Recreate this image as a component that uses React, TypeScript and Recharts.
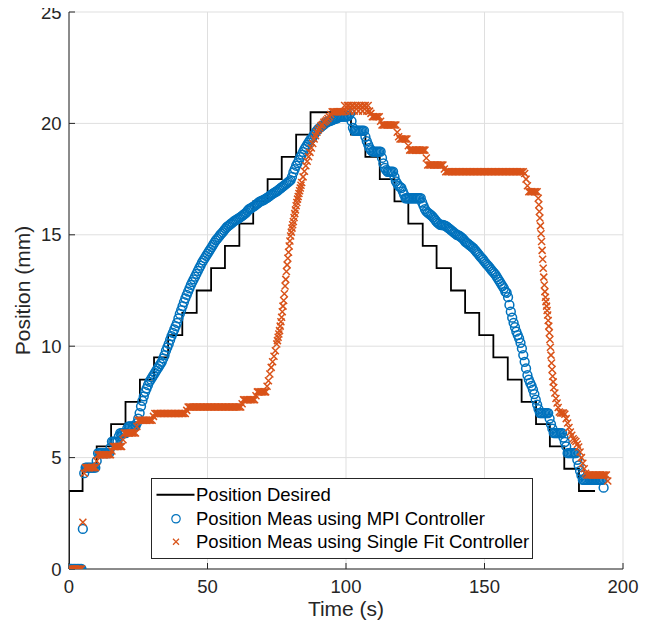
import React from 'react';
import { ComposedChart, Line, Scatter, XAxis, YAxis, CartesianGrid } from 'recharts';

const xTicks = [0, 50, 100, 150, 200];
const yTicks = [0, 5, 10, 15, 20, 25];

const seriesNames = [
  'Position Desired',
  'Position Meas using MPI Controller',
  'Position Meas using Single Fit Controller',
];

const desiredTime = [0, 0, 4.9, 10.0, 15.2, 20.4, 25.6, 30.7, 35.8, 40.9, 46.1, 51.3, 56.3, 61.5, 66.5, 71.7, 76.8, 82.0, 87.2,
  101.8, 107.0, 112.2, 117.5, 122.5, 127.7, 132.7, 137.9, 143.0, 148.1, 153.2, 158.4, 163.4, 168.6, 173.6, 178.8, 184.1, 189.9];
const desiredPos = [0, 3.5, 4.5, 5.5, 6.5, 7.5, 8.5, 9.5, 10.5, 11.5, 12.5, 13.5, 14.5, 15.5, 16.5, 17.5, 18.5, 19.5, 20.5,
  19.5, 18.5, 17.5, 16.5, 15.5, 14.5, 13.5, 12.5, 11.5, 10.5, 9.5, 8.5, 7.5, 6.5, 5.5, 4.5, 3.5, 3.5];

const mpiSamples: [number, number][] = [
  [0, 0], [0.5, 0], [1, 0], [1.5, 0], [2, 0], [2.5, 0], [3, 0], [3.5, 0], [4, 0], [4.5, 0],
  [5, 1.8], [5.5, 4.3],
  [6, 4.55], [6.5, 4.55], [7, 4.55], [7.5, 4.55], [8, 4.55], [8.5, 4.55], [9, 4.55], [9.5, 4.55],
  [10, 4.85],
  [10.5, 5.2], [11, 5.2], [11.5, 5.2], [12, 5.2], [12.5, 5.2], [13, 5.2], [13.5, 5.2], [14, 5.2], [14.5, 5.2],
  [15, 5.45],
  [15.5, 5.72], [16, 5.72], [16.5, 5.72], [17, 5.72], [17.5, 5.72],
  [18, 5.95],
  [18.5, 6.1], [19, 6.1], [19.5, 6.1], [20, 6.1], [20.5, 6.1],
  [21, 6.3], [21.5, 6.4], [22, 6.4], [22.5, 6.4], [23, 6.4], [23.5, 6.4], [24, 6.4],
  [24.5, 6.55],
  [25, 6.75], [25.5, 7.0], [26, 7.3], [26.5, 7.55], [27, 7.75], [27.5, 7.95], [28, 8.1], [28.5, 8.25], [29, 8.4], [29.5, 8.5],
  [30, 8.6], [30.5, 8.7], [31, 8.8], [31.5, 8.9], [32, 9.0], [32.5, 9.1], [33, 9.2], [33.5, 9.3], [34, 9.45], [34.5, 9.6],
  [35, 9.8], [35.5, 9.95], [36, 10.1], [36.5, 10.28], [37, 10.45], [37.5, 10.6], [38, 10.75], [38.5, 10.9], [39, 11.05], [39.5, 11.25],
  [40, 11.45], [40.5, 11.62], [41, 11.8], [41.5, 11.98], [42, 12.15], [42.5, 12.3], [43, 12.45], [43.5, 12.6], [44, 12.75], [44.5, 12.88],
  [45, 13.0], [45.5, 13.12], [46, 13.25], [46.5, 13.38], [47, 13.5], [47.5, 13.62], [48, 13.75], [48.5, 13.85], [49, 13.95], [49.5, 14.05],
  [50, 14.15], [50.5, 14.25], [51, 14.35], [51.5, 14.45], [52, 14.55], [52.5, 14.65], [53, 14.75], [53.5, 14.82], [54, 14.9], [54.5, 14.98],
  [55, 15.05], [55.5, 15.12], [56, 15.2], [56.5, 15.28], [57, 15.35], [57.5, 15.4], [58, 15.45], [58.5, 15.5], [59, 15.55], [59.5, 15.6],
  [60, 15.65], [60.5, 15.68], [61, 15.72], [61.5, 15.76], [62, 15.8], [62.5, 15.85], [63, 15.9], [63.5, 15.95], [64, 16.0], [64.5, 16.08],
  [65, 16.15], [65.5, 16.18], [66, 16.22], [66.5, 16.26], [67, 16.3], [67.5, 16.35], [68, 16.4], [68.5, 16.45], [69, 16.5], [69.5, 16.52],
  [70, 16.55], [70.5, 16.58], [71, 16.62], [71.5, 16.66], [72, 16.7], [72.5, 16.75], [73, 16.8], [73.5, 16.84], [74, 16.88], [74.5, 16.92],
  [75, 16.95], [75.5, 17.0], [76, 17.05], [76.5, 17.1], [77, 17.15], [77.5, 17.2], [78, 17.25], [78.5, 17.3], [79, 17.35], [79.5, 17.4],
  [80, 17.45], [80.5, 17.6], [81, 17.8], [81.5, 17.95], [82, 18.1], [82.5, 18.22], [83, 18.35], [83.5, 18.48], [84, 18.6], [84.5, 18.72],
  [85, 18.85], [85.5, 18.95], [86, 19.05], [86.5, 19.15], [87, 19.25], [87.5, 19.32], [88, 19.4], [88.5, 19.5], [89, 19.6], [89.5, 19.68],
  [90, 19.75], [90.5, 19.8], [91, 19.85], [91.5, 19.9], [92, 19.95], [92.5, 20.0], [93, 20.05], [93.5, 20.08], [94, 20.1], [94.5, 20.12],
  [95, 20.15], [95.5, 20.18], [96, 20.2], [96.5, 20.22], [97, 20.25], [97.5, 20.28], [98, 20.3], [98.5, 20.3], [99, 20.3], [99.5, 20.3],
  [100, 20.3], [100.5, 20.32], [101, 20.35],
  [101.5, 20.45], [102, 20.1], [102.5, 19.8],
  [103, 19.67], [103.5, 19.67], [104, 19.67], [104.5, 19.67], [105, 19.67], [105.5, 19.67], [106, 19.67], [106.5, 19.67],
  [107, 19.4], [107.5, 19.2], [108, 19.05], [108.5, 18.9], [109, 18.8],
  [109.5, 18.73], [110, 18.73], [110.5, 18.73], [111, 18.73], [111.5, 18.73], [112, 18.73], [112.5, 18.73],
  [113, 18.45], [113.5, 18.2], [114, 18.0], [114.5, 17.9],
  [115, 17.83], [115.5, 17.83], [116, 17.83], [116.5, 17.83], [117, 17.83],
  [117.5, 17.6], [118, 17.4], [118.5, 17.3], [119, 17.2], [119.5, 17.15], [120, 17.1], [120.5, 16.95], [121, 16.8],
  [121.5, 16.64], [122, 16.64], [122.5, 16.64], [123, 16.64], [123.5, 16.64], [124, 16.64], [124.5, 16.64], [125, 16.64],
  [125.5, 16.64], [126, 16.64], [126.5, 16.64], [127, 16.64],
  [127.5, 16.45], [128, 16.3], [128.5, 16.15], [129, 16.05], [129.5, 16.0], [130, 15.95], [130.5, 15.9], [131, 15.85], [131.5, 15.78],
  [132, 15.7], [132.5, 15.62], [133, 15.55], [133.5, 15.5], [134, 15.45], [134.5, 15.44], [135, 15.44], [135.5, 15.42], [136, 15.4],
  [136.5, 15.35], [137, 15.3], [137.5, 15.25], [138, 15.2], [138.5, 15.15], [139, 15.1], [139.5, 15.05], [140, 15.0], [140.5, 14.98],
  [141, 14.95], [141.5, 14.9], [142, 14.85], [142.5, 14.78], [143, 14.7], [143.5, 14.65], [144, 14.6], [144.5, 14.55], [145, 14.5],
  [145.5, 14.45], [146, 14.4], [146.5, 14.32], [147, 14.25], [147.5, 14.18], [148, 14.1], [148.5, 14.02], [149, 13.95], [149.5, 13.88],
  [150, 13.8], [150.5, 13.72], [151, 13.65], [151.5, 13.58], [152, 13.5], [152.5, 13.42], [153, 13.35], [153.5, 13.28], [154, 13.2],
  [154.5, 13.1], [155, 13.0], [155.5, 12.9], [156, 12.8], [156.5, 12.7], [157, 12.6], [157.5, 12.45], [158, 12.4],
  [158.5, 12.2], [159, 11.85], [159.5, 11.55], [160, 11.28], [160.5, 11.05], [161, 10.85], [161.5, 10.65], [162, 10.5], [162.5, 10.35],
  [163, 10.15], [163.5, 9.9], [164, 9.6], [164.5, 9.3], [165, 9.0], [165.5, 8.7], [166, 8.5], [166.5, 8.35], [167, 8.22], [167.5, 8.05],
  [168, 7.85], [168.5, 7.6], [169, 7.38], [169.5, 7.18],
  [170, 7.0], [170.5, 7.0], [171, 7.0], [171.5, 7.0], [172, 7.0], [172.5, 7.0], [173, 7.0],
  [173.5, 6.75], [174, 6.5], [174.5, 6.3],
  [175, 6.1], [175.5, 6.1], [176, 6.1], [176.5, 6.1], [177, 6.1], [177.5, 6.1], [178, 6.1],
  [178.5, 5.9], [179, 5.7], [179.5, 5.5],
  [180, 5.2], [180.5, 5.2], [181, 5.2], [181.5, 5.2], [182, 5.2], [182.5, 5.2], [183, 5.2],
  [183.5, 4.9], [184, 4.65], [184.5, 4.4], [185, 4.2],
  [185.5, 4.0], [186, 4.0], [186.5, 4.0], [187, 4.0], [187.5, 4.0], [188, 4.0], [188.5, 4.0], [189, 4.0], [189.5, 4.0],
  [190, 4.0], [190.5, 4.0], [191, 4.0], [191.5, 4.0], [192, 4.0], [192.5, 4.0], [193, 3.65],
];

const singleFitSamples: [number, number][] = [
  [0, 0], [0.5, 0], [1, 0], [1.5, 0], [2, 0], [2.5, 0], [3, 0], [3.5, 0], [4, 0], [4.5, 0],
  [5, 2.1], [5.5, 4.3],
  [6, 4.55], [6.5, 4.55], [7, 4.55], [7.5, 4.55], [8, 4.55], [8.5, 4.55], [9, 4.55], [9.5, 4.55],
  [10, 4.85],
  [10.5, 5.13], [11, 5.13], [11.5, 5.13], [12, 5.13], [12.5, 5.13], [13, 5.13], [13.5, 5.13], [14, 5.13], [14.5, 5.13], [15, 5.13],
  [15.5, 5.3],
  [16, 5.5], [16.5, 5.5], [17, 5.5], [17.5, 5.5], [18, 5.5], [18.5, 5.5], [19, 5.5],
  [19.5, 5.8],
  [20, 6.1], [20.5, 6.1], [21, 6.1], [21.5, 6.1], [22, 6.1], [22.5, 6.1], [23, 6.1], [23.5, 6.1], [24, 6.1],
  [24.5, 6.4],
  [25, 6.68], [25.5, 6.68], [26, 6.68], [26.5, 6.68], [27, 6.68], [27.5, 6.68], [28, 6.68], [28.5, 6.68], [29, 6.68], [29.5, 6.68], [30, 6.68],
  [30.5, 6.85],
  [31, 6.98], [31.5, 6.98], [32, 6.98], [32.5, 6.98], [33, 6.98], [33.5, 6.98], [34, 6.98], [34.5, 6.98], [35, 6.98], [35.5, 6.98],
  [36, 6.98], [36.5, 6.98], [37, 6.98], [37.5, 6.98], [38, 6.98], [38.5, 6.98], [39, 6.98], [39.5, 6.98], [40, 6.98], [40.5, 6.98],
  [41, 6.98], [41.5, 6.98], [42, 6.98],
  [42.5, 7.12],
  [43, 7.27], [43.5, 7.27], [44, 7.27], [44.5, 7.27], [45, 7.27], [45.5, 7.27], [46, 7.27], [46.5, 7.27], [47, 7.27], [47.5, 7.27],
  [48, 7.27], [48.5, 7.27], [49, 7.27], [49.5, 7.27], [50, 7.27], [50.5, 7.27], [51, 7.27], [51.5, 7.27], [52, 7.27], [52.5, 7.27],
  [53, 7.27], [53.5, 7.27], [54, 7.27], [54.5, 7.27], [55, 7.27], [55.5, 7.27], [56, 7.27], [56.5, 7.27], [57, 7.27], [57.5, 7.27],
  [58, 7.27], [58.5, 7.27], [59, 7.27], [59.5, 7.27], [60, 7.27], [60.5, 7.27], [61, 7.27], [61.5, 7.27], [62, 7.27],
  [62.5, 7.42],
  [63, 7.6], [63.5, 7.6], [64, 7.6], [64.5, 7.6], [65, 7.6], [65.5, 7.6], [66, 7.6], [66.5, 7.6], [67, 7.6],
  [67.5, 7.78],
  [68, 7.95], [68.5, 7.95], [69, 7.95], [69.5, 7.95], [70, 7.95], [70.5, 7.95], [71, 7.95],
  [71.5, 8.2], [72, 8.45], [72.5, 8.75], [73, 9.05], [73.5, 9.3], [74, 9.55], [74.5, 9.8],
  [75, 10.1], [75.25, 10.25], [75.5, 10.4], [75.75, 10.55], [76, 10.7], [76.25, 10.9], [76.5, 11.1], [76.75, 11.3],
  [77, 11.55], [77.25, 11.8], [77.5, 12.05], [77.75, 12.35], [78, 12.7], [78.25, 13.0], [78.5, 13.35], [78.75, 13.65],
  [79, 13.95], [79.25, 14.22], [79.5, 14.5], [79.75, 14.72], [80, 14.95], [80.25, 15.12], [80.5, 15.3], [80.75, 15.45],
  [81, 15.6], [81.25, 15.78], [81.5, 15.95], [81.75, 16.12], [82, 16.3], [82.25, 16.45], [82.5, 16.6], [82.75, 16.72],
  [83, 16.85], [83.25, 16.98], [83.5, 17.1], [83.75, 17.22], [84, 17.35],
  [84.5, 17.6], [85, 17.85], [85.5, 18.1], [86, 18.3], [86.5, 18.5], [87, 18.7], [87.5, 18.9], [88, 19.1], [88.5, 19.3],
  [89, 19.45], [89.5, 19.6], [90, 19.7], [90.5, 19.8], [91, 19.9], [91.5, 19.95], [92, 20.05], [92.5, 20.1], [93, 20.15],
  [93.5, 20.22], [94, 20.3], [94.5, 20.4],
  [95, 20.52], [95.5, 20.52], [96, 20.52], [96.5, 20.52], [97, 20.52], [97.5, 20.52], [98, 20.52], [98.5, 20.52], [99, 20.52],
  [99.5, 20.8], [100, 20.55], [100.5, 20.8], [101, 20.8], [101.5, 20.55], [102, 20.8], [102.5, 20.8], [103, 20.55],
  [103.5, 20.8], [104, 20.8], [104.5, 20.55], [105, 20.8], [105.5, 20.8], [106, 20.55], [106.5, 20.8], [107, 20.8],
  [107.5, 20.55], [108, 20.8], [108.5, 20.55],
  [109, 20.45], [109.5, 20.3], [110, 20.3], [110.5, 20.3], [111, 20.3], [111.5, 20.3], [112, 20.3],
  [112.5, 20.1],
  [113, 19.93], [113.5, 19.93], [114, 19.93], [114.5, 19.93], [115, 19.93], [115.5, 19.93], [116, 19.93], [116.5, 19.93],
  [117, 19.93], [117.5, 19.93], [118, 19.93],
  [118.5, 19.6], [119, 19.4],
  [119.5, 19.3], [120, 19.3], [120.5, 19.3], [121, 19.3], [121.5, 19.3], [122, 19.3],
  [122.5, 19.0],
  [123, 18.8], [123.5, 18.8], [124, 18.8], [124.5, 18.8], [125, 18.8], [125.5, 18.8], [126, 18.8], [126.5, 18.8],
  [127, 18.8], [127.5, 18.8], [128, 18.8], [128.5, 18.8],
  [129, 18.45],
  [129.5, 18.13], [130, 18.13], [130.5, 18.13], [131, 18.13], [131.5, 18.13], [132, 18.13], [132.5, 18.13], [133, 18.13],
  [133.5, 18.13], [134, 18.13], [134.5, 18.13], [135, 18.13],
  [135.5, 17.95],
  [136, 17.83], [136.5, 17.83], [137, 17.83], [137.5, 17.83], [138, 17.83], [138.5, 17.83], [139, 17.83], [139.5, 17.83],
  [140, 17.83], [140.5, 17.83], [141, 17.83], [141.5, 17.83], [142, 17.83], [142.5, 17.83], [143, 17.83], [143.5, 17.83],
  [144, 17.83], [144.5, 17.83], [145, 17.83], [145.5, 17.83], [146, 17.83], [146.5, 17.83], [147, 17.83], [147.5, 17.83],
  [148, 17.83], [148.5, 17.83], [149, 17.83], [149.5, 17.83], [150, 17.83], [150.5, 17.83], [151, 17.83], [151.5, 17.83],
  [152, 17.83], [152.5, 17.83], [153, 17.83], [153.5, 17.83], [154, 17.83], [154.5, 17.83], [155, 17.83], [155.5, 17.83],
  [156, 17.83], [156.5, 17.83], [157, 17.83], [157.5, 17.83], [158, 17.83], [158.5, 17.83], [159, 17.83], [159.5, 17.83],
  [160, 17.83], [160.5, 17.83], [161, 17.83], [161.5, 17.83], [162, 17.83], [162.5, 17.83], [163, 17.83], [163.5, 17.83],
  [164, 17.83],
  [164.5, 17.75], [165, 17.5], [165.5, 17.2],
  [166, 16.93], [166.5, 16.93], [167, 16.93], [167.5, 16.93], [168, 16.93], [168.5, 16.93], [169, 16.93],
  [169.4, 16.64], [169.6, 16.35], [169.8, 16.05], [170, 15.75], [170.2, 15.4], [170.4, 15.05], [170.6, 14.7], [170.8, 14.3],
  [171, 13.9], [171.2, 13.5], [171.4, 13.1], [171.6, 12.75], [171.8, 12.45], [172, 12.2], [172.2, 12.0], [172.4, 11.8],
  [172.6, 11.6], [172.8, 11.4], [173, 11.15], [173.2, 10.9], [173.4, 10.6], [173.6, 10.3], [173.8, 9.95], [174, 9.6],
  [174.2, 9.25], [174.4, 8.95], [174.6, 8.65], [174.8, 8.4], [175, 8.15], [175.4, 7.9], [175.8, 7.65], [176.2, 7.45],
  [176.6, 7.25], [177, 7.05], [177.5, 7.0], [178, 7.0], [178.5, 7.0], [179, 6.95],
  [179.5, 6.75], [180, 6.55], [180.5, 6.35], [181, 6.15], [181.5, 6.0], [182, 5.85], [182.5, 5.78], [183, 5.72], [183.5, 5.6],
  [184, 5.48], [184.5, 5.25], [185, 5.0], [185.5, 4.75], [186, 4.5], [186.5, 4.3],
  [187, 4.22], [187.5, 4.22], [188, 4.22], [188.5, 4.22], [189, 4.22], [189.5, 4.22], [190, 4.22], [190.5, 4.22],
  [191, 4.22], [191.5, 4.22], [192, 4.22], [192.5, 4.22], [193, 4.22], [193.5, 4.22], [194, 4.22], [194.5, 3.95],
];

const BLUE = '#0072BD';
const ORANGE = '#D95319';
const TEXT = '#262626';
const FONT = "'Liberation Sans', Arial, Helvetica, sans-serif";

const desiredData = desiredTime.map((t, i) => ({ t, v: desiredPos[i] }));
const mpiData = mpiSamples.map(([t, v]) => ({ t, v }));
const singleFitData = singleFitSamples.map(([t, v]) => ({ t, v }));

const CircleMarker = (props: any) => {
  const { cx, cy } = props;
  if (cx == null || cy == null) return <g />;
  return <circle cx={cx} cy={cy} r={4.4} fill="none" stroke={BLUE} strokeWidth={1.5} />;
};

const CrossMarker = (props: any) => {
  const { cx, cy } = props;
  if (cx == null || cy == null) return <g />;
  const s = 3.5;
  return (
    <path
      d={`M${cx - s},${cy - s}L${cx + s},${cy + s}M${cx - s},${cy + s}L${cx + s},${cy - s}`}
      stroke={ORANGE}
      strokeWidth={1.5}
      fill="none"
    />
  );
};

const YLabel = (props: any) => {
  const vb = props.viewBox || {};
  const cx = (vb.x ?? 0) + 29.5;
  const cy = (vb.y ?? 0) + (vb.height ?? 0) / 2;
  return (
    <text x={cx} y={cy} transform={`rotate(-90 ${cx} ${cy})`} textAnchor="middle" fill={TEXT}
      style={{ fontFamily: FONT, fontSize: 21 }}>
      Position (mm)
    </text>
  );
};

const XLabel = (props: any) => {
  const vb = props.viewBox || {};
  const cx = (vb.x ?? 0) + (vb.width ?? 0) / 2;
  const cy = (vb.y ?? 0) + 47;
  return (
    <text x={cx} y={cy} textAnchor="middle" fill={TEXT} style={{ fontFamily: FONT, fontSize: 21 }}>
      Time (s)
    </text>
  );
};

const LegendIcon = ({ kind }: { kind: number }) => (
  <svg width={44} height={23.5} style={{ display: 'block', flex: 'none' }}>
    {kind === 0 && <line x1={4.5} x2={42.5} y1={11.75} y2={11.75} stroke="#000" strokeWidth={1.8} />}
    {kind === 1 && <circle cx={24} cy={11.75} r={4.2} fill="none" stroke={BLUE} strokeWidth={1.2} />}
    {kind === 2 && (
      <path d="M21,8.75L27,14.75M21,14.75L27,8.75" stroke={ORANGE} strokeWidth={1.2} fill="none" />
    )}
  </svg>
);

export default function App() {
  const tickStyle = { fill: TEXT, fontSize: 18.5, fontFamily: FONT };
  return (
    <div style={{ position: 'relative', width: 654, height: 630, margin: '-8px 0 0 -8px' }}>
      <ComposedChart width={654} height={630} margin={{ top: 12, right: 31, bottom: 0, left: 0 }}>
        <CartesianGrid stroke="#dfdfdf" strokeWidth={1} />
        <XAxis
          type="number"
          dataKey="t"
          domain={[0, 200]}
          ticks={xTicks}
          interval={0}
          height={61}
          tickSize={-6}
          tickMargin={16.5}
          tick={tickStyle}
          axisLine={{ stroke: TEXT, strokeWidth: 1 }}
          tickLine={{ stroke: TEXT, strokeWidth: 1 }}
          label={<XLabel />}
          allowDataOverflow
        />
        <YAxis
          type="number"
          dataKey="v"
          domain={[0, 25]}
          ticks={yTicks}
          interval={0}
          width={69}
          tickSize={-6}
          tickMargin={13.5}
          tick={tickStyle}
          axisLine={{ stroke: TEXT, strokeWidth: 1 }}
          tickLine={{ stroke: TEXT, strokeWidth: 1 }}
          label={<YLabel />}
          allowDataOverflow
        />
        <Line
          data={desiredData}
          dataKey="v"
          type="stepAfter"
          stroke="#000"
          strokeWidth={1.8}
          dot={false}
          activeDot={false}
          isAnimationActive={false}
          name={seriesNames[0]}
        />
        <Scatter data={mpiData} dataKey="v" shape={<CircleMarker />} isAnimationActive={false} name={seriesNames[1]} />
        <Scatter data={singleFitData} dataKey="v" shape={<CrossMarker />} isAnimationActive={false} name={seriesNames[2]} />
      </ComposedChart>
      <div
        style={{
          position: 'absolute',
          left: 151,
          top: 478,
          width: 380,
          height: 75,
          boxSizing: 'content-box',
          border: `1px solid ${TEXT}`,
          background: '#fff',
          paddingTop: 4,
          fontFamily: FONT,
          fontSize: 18.5,
          color: '#000',
        }}
      >
        {seriesNames.map((name, i) => (
          <div key={name} style={{ display: 'flex', alignItems: 'center', height: 23.5, whiteSpace: 'nowrap' }}>
            <LegendIcon kind={i} />
            <span style={{ lineHeight: '23.5px' }}>{name}</span>
          </div>
        ))}
      </div>
    </div>
  );
}
